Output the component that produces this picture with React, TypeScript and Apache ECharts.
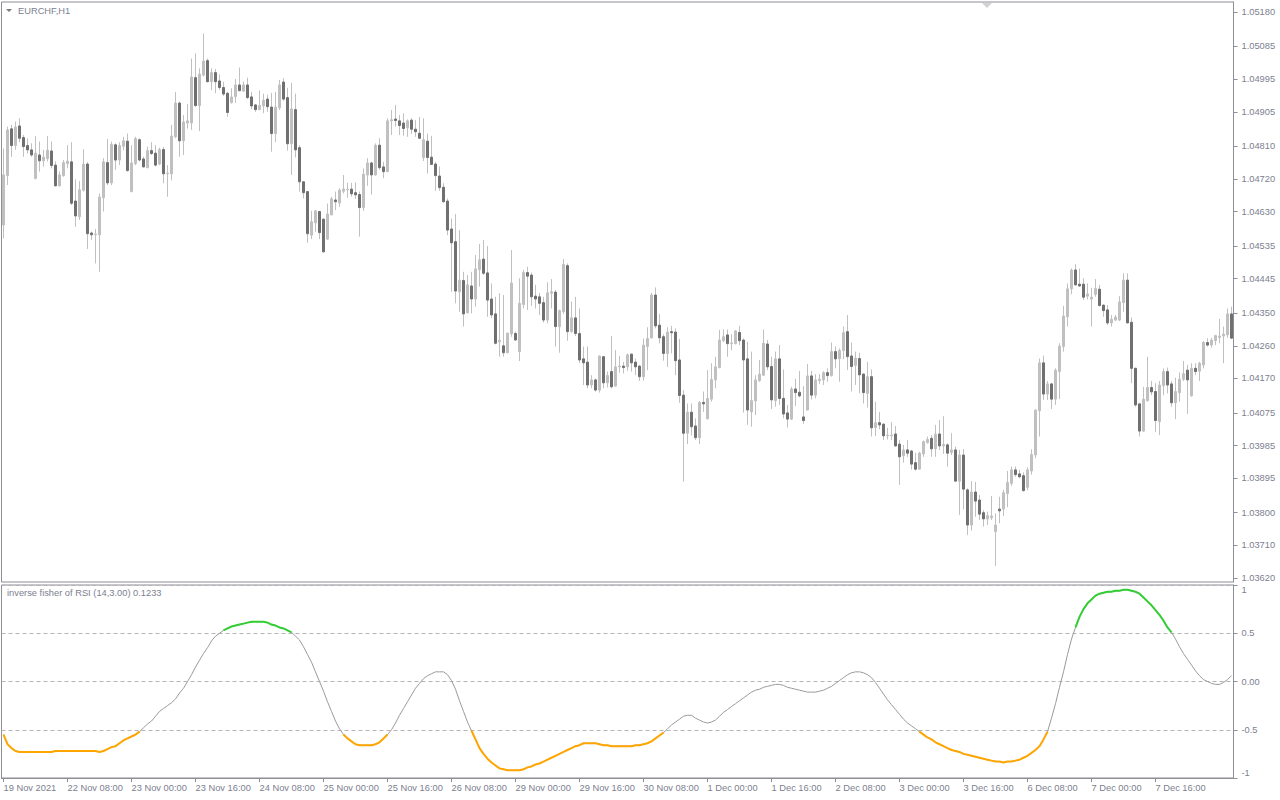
import React, { useEffect, useRef } from "react";
import * as echarts from "echarts";

const SYMBOL_TITLE = "EURCHF,H1";
const IND_TITLE = "inverse fisher of RSI (14,3.00) 0.1233";
const FIRST_BAR_UTC = "2021-11-19T16:00:00Z";
const MONTHS = ["Jan", "Feb", "Mar", "Apr", "May", "Jun", "Jul", "Aug", "Sep", "Oct", "Nov", "Dec"];

const OPEN = [
1.04593,1.04729,1.04858,1.04812,1.04866,1.04834,1.04812,1.04800,1.04721,1.04786,1.04770,1.04776,1.04797,1.04758,1.04701,1.04729,
1.04762,1.04767,1.04659,1.04616,1.04689,1.04761,1.04571,1.04566,1.04566,1.04668,1.04765,1.04709,1.04814,1.04772,1.04810,1.04824,
1.04685,1.04762,1.04828,1.04775,1.04751,1.04798,1.04791,1.04761,1.04801,1.04734,1.04734,1.04836,1.04929,1.04825,1.04874,1.04874,
1.04999,1.04922,1.05006,1.05046,1.04988,1.05013,1.04990,1.04972,1.04956,1.04930,1.04947,1.04979,1.04962,1.04979,1.04946,1.04924,
1.04911,1.04921,1.04940,1.04918,1.04845,1.04916,1.04987,1.04944,1.04817,1.04911,1.04806,1.04712,1.04685,1.04565,1.04599,1.04630,
1.04609,1.04554,1.04621,1.04662,1.04654,1.04686,1.04690,1.04692,1.04682,1.04677,1.04641,1.04731,1.04764,1.04731,1.04813,1.04753,
1.04740,1.04880,1.04885,1.04880,1.04874,1.04861,1.04882,1.04857,1.04846,1.04779,1.04824,1.04780,1.04761,1.04728,1.04697,1.04659,
1.04582,1.04547,1.04409,1.04440,1.04351,1.04425,1.04389,1.04470,1.04499,1.04461,1.04389,1.04348,1.04271,1.04260,1.04241,1.04293,
1.04294,1.04244,1.04374,1.04462,1.04455,1.04397,1.04395,1.04379,1.04331,1.04405,1.04408,1.04313,1.04354,1.04481,1.04299,1.04337,
1.04294,1.04224,1.04215,1.04152,1.04166,1.04138,1.04230,1.04158,1.04189,1.04149,1.04202,1.04204,1.04202,1.04237,1.04215,1.04204,
1.04175,1.04258,1.04282,1.04400,1.04317,1.04285,1.04239,1.04299,1.04298,1.04221,1.04124,1.04019,1.04077,1.04039,1.04007,1.04104,
1.04059,1.04113,1.04166,1.04200,1.04274,1.04290,1.04266,1.04266,1.04297,1.04276,1.04224,1.04078,1.04108,1.04164,1.04179,1.04265,
1.04203,1.04109,1.04224,1.04115,1.04075,1.04058,1.04141,1.04132,1.04064,1.04083,1.04177,1.04124,1.04164,1.04166,1.04186,1.04178,
1.04244,1.04225,1.04247,1.04299,1.04232,1.04206,1.04225,1.04182,1.04129,1.04175,1.04035,1.04048,1.04044,1.04012,1.04012,1.04017,
1.03989,1.03957,1.03973,1.03970,1.03938,1.03920,1.03962,1.03993,1.04005,1.03976,1.04017,1.03984,1.03987,1.03966,1.03973,1.03887,
1.03959,1.03863,1.03766,1.03857,1.03835,1.03800,1.03783,1.03786,1.03748,1.03810,1.03810,1.03853,1.03881,1.03918,1.03907,1.03902,
1.03870,1.03915,1.03959,1.04081,1.04213,1.04127,1.04155,1.04113,1.04189,1.04258,1.04340,1.04417,1.04469,1.04430,1.04430,1.04397,
1.04389,1.04402,1.04416,1.04372,1.04359,1.04323,1.04331,1.04331,1.04379,1.04441,1.04325,1.04198,1.04100,1.04025,1.04109,1.04145,
1.04134,1.04051,1.04150,1.04189,1.04155,1.04103,1.04131,1.04168,1.04193,1.04122,1.04198,1.04190,1.04207,1.04269,1.04262,1.04274,
1.04283,1.04287,1.04290,1.04348
];

const HIGH = [
1.04804,1.04864,1.04869,1.04878,1.04887,1.04841,1.04832,1.04818,1.04838,1.04823,1.04800,1.04838,1.04823,1.04768,1.04740,1.04772,
1.04813,1.04821,1.04719,1.04714,1.04802,1.04766,1.04575,1.04582,1.04680,1.04777,1.04830,1.04823,1.04818,1.04821,1.04836,1.04845,
1.04813,1.04836,1.04832,1.04781,1.04809,1.04821,1.04813,1.04806,1.04808,1.04758,1.04869,1.04960,1.04933,1.04896,1.04926,1.05052,
1.05066,1.05025,1.05121,1.05052,1.05025,1.05023,1.05008,1.04988,1.04960,1.04970,1.04995,1.05027,1.04988,1.04999,1.04960,1.04926,
1.04964,1.04955,1.04952,1.04957,1.04960,1.04993,1.04998,1.04971,1.04985,1.04955,1.04813,1.04714,1.04687,1.04632,1.04634,1.04632,
1.04611,1.04652,1.04671,1.04685,1.04694,1.04731,1.04710,1.04709,1.04710,1.04685,1.04749,1.04777,1.04767,1.04818,1.04832,1.04767,
1.04887,1.04910,1.04924,1.04896,1.04901,1.04884,1.04887,1.04882,1.04891,1.04887,1.04845,1.04839,1.04767,1.04754,1.04708,1.04666,
1.04611,1.04623,1.04579,1.04464,1.04455,1.04464,1.04510,1.04541,1.04552,1.04535,1.04432,1.04395,1.04405,1.04400,1.04296,1.04524,
1.04299,1.04446,1.04469,1.04478,1.04462,1.04428,1.04406,1.04395,1.04435,1.04444,1.04414,1.04360,1.04499,1.04487,1.04382,1.04395,
1.04363,1.04258,1.04258,1.04179,1.04170,1.04233,1.04232,1.04189,1.04287,1.04248,1.04232,1.04216,1.04239,1.04239,1.04225,1.04207,
1.04280,1.04311,1.04406,1.04421,1.04348,1.04292,1.04311,1.04315,1.04308,1.04279,1.04138,1.04101,1.04101,1.04060,1.04108,1.04134,
1.04193,1.04212,1.04230,1.04304,1.04305,1.04305,1.04292,1.04303,1.04315,1.04280,1.04271,1.04244,1.04179,1.04221,1.04305,1.04276,
1.04230,1.04244,1.04262,1.04195,1.04097,1.04147,1.04169,1.04191,1.04149,1.04210,1.04191,1.04182,1.04182,1.04190,1.04198,1.04269,
1.04258,1.04253,1.04313,1.04345,1.04269,1.04244,1.04241,1.04184,1.04216,1.04195,1.04106,1.04078,1.04046,1.04034,1.04050,1.04039,
1.04000,1.03987,1.04000,1.03973,1.03965,1.03968,1.03999,1.04010,1.04014,1.04042,1.04056,1.04066,1.03991,1.04019,1.03982,1.03973,
1.03975,1.03867,1.03887,1.03885,1.03849,1.03807,1.03803,1.03846,1.03798,1.03844,1.03863,1.03915,1.03927,1.03927,1.03918,1.03911,
1.03925,1.03975,1.04085,1.04225,1.04233,1.04163,1.04157,1.04198,1.04267,1.04370,1.04432,1.04473,1.04485,1.04473,1.04446,1.04432,
1.04420,1.04444,1.04428,1.04374,1.04372,1.04345,1.04345,1.04397,1.04460,1.04460,1.04338,1.04200,1.04101,1.04147,1.04230,1.04163,
1.04157,1.04163,1.04198,1.04200,1.04163,1.04172,1.04187,1.04218,1.04207,1.04212,1.04212,1.04216,1.04273,1.04281,1.04282,1.04290,
1.04334,1.04313,1.04363,1.04368
];

const LOW = [
1.04556,1.04703,1.04781,1.04800,1.04821,1.04781,1.04790,1.04781,1.04719,1.04740,1.04754,1.04768,1.04749,1.04699,1.04699,1.04726,
1.04749,1.04648,1.04588,1.04607,1.04685,1.04527,1.04552,1.04487,1.04464,1.04630,1.04703,1.04703,1.04745,1.04758,1.04799,1.04740,
1.04683,1.04758,1.04768,1.04752,1.04749,1.04786,1.04754,1.04758,1.04708,1.04671,1.04716,1.04832,1.04781,1.04786,1.04859,1.04855,
1.04919,1.04852,1.05002,1.04986,1.04965,1.04956,1.04965,1.04949,1.04891,1.04928,1.04930,1.04962,1.04960,1.04940,1.04912,1.04905,
1.04910,1.04901,1.04905,1.04795,1.04821,1.04910,1.04935,1.04798,1.04731,1.04779,1.04685,1.04666,1.04544,1.04554,1.04575,1.04554,
1.04517,1.04552,1.04620,1.04634,1.04643,1.04680,1.04668,1.04671,1.04665,1.04561,1.04632,1.04701,1.04677,1.04729,1.04745,1.04722,
1.04738,1.04841,1.04864,1.04841,1.04839,1.04836,1.04844,1.04836,1.04830,1.04769,1.04735,1.04758,1.04687,1.04687,1.04655,1.04565,
1.04409,1.04377,1.04354,1.04313,1.04349,1.04349,1.04368,1.04423,1.04455,1.04340,1.04336,1.04264,1.04230,1.04230,1.04239,1.04285,
1.04274,1.04218,1.04363,1.04359,1.04370,1.04363,1.04345,1.04324,1.04322,1.04363,1.04258,1.04241,1.04348,1.04274,1.04296,1.04287,
1.04212,1.04152,1.04143,1.04143,1.04134,1.04131,1.04143,1.04145,1.04143,1.04148,1.04186,1.04184,1.04191,1.04189,1.04179,1.04163,
1.04164,1.04193,1.04280,1.04308,1.04267,1.04219,1.04202,1.04239,1.04179,1.04103,1.03886,1.03989,1.04013,1.04000,1.03989,1.04078,
1.04057,1.04106,1.04143,1.04198,1.04270,1.04230,1.04248,1.04264,1.04262,1.04076,1.04042,1.04037,1.04069,1.04161,1.04177,1.04193,
1.04086,1.04092,1.04097,1.04060,1.04035,1.04056,1.04094,1.04118,1.04045,1.04082,1.04112,1.04115,1.04155,1.04152,1.04161,1.04175,
1.04198,1.04161,1.04223,1.04193,1.04134,1.04152,1.04129,1.04101,1.04090,1.04010,1.04011,1.04030,1.04000,1.04002,1.04000,1.03982,
1.03877,1.03938,1.03954,1.03919,1.03916,1.03919,1.03954,1.03991,1.03954,1.03954,1.03973,1.03962,1.03927,1.03959,1.03886,1.03794,
1.03809,1.03739,1.03751,1.03789,1.03780,1.03762,1.03766,1.03780,1.03653,1.03771,1.03791,1.03815,1.03874,1.03899,1.03895,1.03858,
1.03862,1.03905,1.03950,1.04010,1.04111,1.04111,1.04086,1.04097,1.04113,1.04244,1.04313,1.04402,1.04426,1.04422,1.04386,1.04388,
1.04313,1.04395,1.04368,1.04340,1.04317,1.04313,1.04328,1.04328,1.04354,1.04322,1.04157,1.04092,1.04010,1.04023,1.04106,1.04124,
1.04023,1.04014,1.04124,1.04129,1.04092,1.04058,1.04106,1.04163,1.04072,1.04120,1.04179,1.04163,1.04198,1.04258,1.04255,1.04262,
1.04267,1.04212,1.04282,1.04279
];

const CLOSE = [
1.04731,1.04855,1.04812,1.04863,1.04832,1.04809,1.04800,1.04786,1.04791,1.04770,1.04780,1.04799,1.04757,1.04701,1.04731,1.04765,
1.04769,1.04653,1.04618,1.04690,1.04761,1.04569,1.04566,1.04568,1.04670,1.04767,1.04709,1.04815,1.04772,1.04812,1.04825,1.04743,
1.04764,1.04831,1.04772,1.04753,1.04798,1.04790,1.04758,1.04801,1.04734,1.04736,1.04838,1.04929,1.04825,1.04877,1.04880,1.05001,
1.04922,1.05009,1.05045,1.04988,1.05013,1.04988,1.04972,1.04954,1.04903,1.04946,1.04979,1.04963,1.04979,1.04944,1.04921,1.04911,
1.04922,1.04937,1.04919,1.04845,1.04918,1.04979,1.04940,1.04817,1.04913,1.04800,1.04712,1.04682,1.04569,1.04602,1.04632,1.04572,
1.04519,1.04623,1.04665,1.04657,1.04689,1.04692,1.04692,1.04679,1.04676,1.04641,1.04733,1.04764,1.04731,1.04813,1.04751,1.04740,
1.04880,1.04883,1.04881,1.04867,1.04859,1.04880,1.04857,1.04850,1.04832,1.04828,1.04779,1.04760,1.04729,1.04696,1.04657,1.04579,
1.04544,1.04411,1.04441,1.04348,1.04428,1.04389,1.04472,1.04497,1.04460,1.04386,1.04345,1.04267,1.04275,1.04241,1.04295,1.04433,
1.04276,1.04377,1.04462,1.04452,1.04395,1.04389,1.04377,1.04331,1.04406,1.04409,1.04313,1.04357,1.04484,1.04299,1.04337,1.04294,
1.04221,1.04213,1.04152,1.04166,1.04138,1.04232,1.04158,1.04178,1.04147,1.04202,1.04204,1.04200,1.04235,1.04213,1.04202,1.04175,
1.04262,1.04280,1.04400,1.04315,1.04282,1.04239,1.04298,1.04296,1.04219,1.04123,1.04019,1.04077,1.04037,1.04007,1.04104,1.04100,
1.04115,1.04167,1.04202,1.04276,1.04285,1.04266,1.04268,1.04301,1.04274,1.04221,1.04083,1.04109,1.04166,1.04182,1.04267,1.04202,
1.04111,1.04224,1.04115,1.04072,1.04058,1.04141,1.04131,1.04122,1.04054,1.04177,1.04124,1.04166,1.04168,1.04186,1.04178,1.04244,
1.04224,1.04247,1.04296,1.04230,1.04203,1.04226,1.04180,1.04131,1.04175,1.04034,1.04048,1.04042,1.04012,1.04014,1.04014,1.03984,
1.03954,1.03973,1.03964,1.03934,1.03920,1.03964,1.03996,1.04002,1.03976,1.04016,1.03984,1.03988,1.03964,1.03973,1.03887,1.03959,
1.03865,1.03766,1.03857,1.03832,1.03796,1.03783,1.03792,1.03791,1.03766,1.03805,1.03855,1.03883,1.03918,1.03905,1.03899,1.03861,
1.03918,1.03960,1.04083,1.04213,1.04127,1.04155,1.04113,1.04193,1.04259,1.04342,1.04417,1.04469,1.04428,1.04425,1.04394,1.04403,
1.04394,1.04418,1.04371,1.04357,1.04323,1.04333,1.04339,1.04381,1.04441,1.04323,1.04198,1.04097,1.04025,1.04113,1.04145,1.04133,
1.04054,1.04152,1.04189,1.04152,1.04103,1.04134,1.04168,1.04183,1.04166,1.04198,1.04189,1.04212,1.04269,1.04262,1.04276,1.04288,
1.04287,1.04292,1.04348,1.04281
];

const IFISH = [
-0.55,-0.65,-0.69,-0.72,-0.73,-0.73,-0.73,-0.73,-0.73,-0.73,-0.73,-0.73,-0.73,-0.72,-0.72,-0.72,
-0.72,-0.72,-0.72,-0.72,-0.72,-0.72,-0.72,-0.72,-0.73,-0.72,-0.70,-0.68,-0.67,-0.64,-0.61,-0.59,
-0.57,-0.55,-0.52,-0.48,-0.44,-0.41,-0.36,-0.31,-0.28,-0.25,-0.22,-0.18,-0.12,-0.07,0.00,0.07,
0.15,0.22,0.29,0.35,0.42,0.47,0.50,0.53,0.55,0.57,0.58,0.59,0.60,0.61,0.62,0.62,
0.62,0.62,0.61,0.59,0.58,0.56,0.55,0.53,0.51,0.47,0.43,0.36,0.28,0.20,0.10,0.00,
-0.10,-0.21,-0.31,-0.41,-0.49,-0.55,-0.59,-0.62,-0.65,-0.66,-0.66,-0.66,-0.66,-0.65,-0.63,-0.59,
-0.55,-0.50,-0.43,-0.35,-0.28,-0.21,-0.14,-0.07,-0.02,0.03,0.06,0.08,0.10,0.10,0.10,0.07,
0.01,-0.08,-0.20,-0.31,-0.42,-0.51,-0.60,-0.69,-0.75,-0.80,-0.84,-0.87,-0.90,-0.91,-0.92,-0.92,
-0.92,-0.92,-0.91,-0.89,-0.88,-0.86,-0.85,-0.83,-0.81,-0.79,-0.77,-0.75,-0.73,-0.71,-0.69,-0.67,
-0.66,-0.64,-0.64,-0.64,-0.64,-0.65,-0.66,-0.66,-0.67,-0.67,-0.67,-0.67,-0.67,-0.67,-0.66,-0.66,
-0.65,-0.64,-0.62,-0.59,-0.56,-0.53,-0.49,-0.45,-0.42,-0.39,-0.36,-0.35,-0.35,-0.38,-0.40,-0.42,
-0.43,-0.42,-0.40,-0.36,-0.32,-0.29,-0.26,-0.23,-0.20,-0.17,-0.14,-0.11,-0.09,-0.08,-0.06,-0.05,
-0.04,-0.03,-0.03,-0.04,-0.06,-0.07,-0.08,-0.09,-0.10,-0.11,-0.11,-0.11,-0.10,-0.09,-0.07,-0.05,
-0.02,0.01,0.04,0.07,0.09,0.10,0.10,0.09,0.07,0.04,-0.01,-0.07,-0.13,-0.19,-0.24,-0.29,
-0.34,-0.39,-0.43,-0.46,-0.49,-0.52,-0.55,-0.58,-0.60,-0.63,-0.65,-0.67,-0.69,-0.71,-0.72,-0.73,
-0.75,-0.76,-0.77,-0.78,-0.79,-0.80,-0.81,-0.82,-0.83,-0.83,-0.84,-0.83,-0.83,-0.82,-0.81,-0.79,
-0.77,-0.74,-0.71,-0.67,-0.60,-0.52,-0.38,-0.23,-0.06,0.10,0.28,0.44,0.56,0.67,0.75,0.81,
0.85,0.89,0.91,0.92,0.93,0.93,0.94,0.94,0.95,0.95,0.94,0.93,0.91,0.87,0.83,0.79,
0.74,0.69,0.63,0.56,0.51,0.44,0.36,0.29,0.23,0.17,0.11,0.06,0.02,0.00,-0.02,-0.03,
-0.03,-0.01,0.02,0.06
];

const PRICE_TICKS = ["1.03620","1.03710","1.03800","1.03895","1.03985","1.04075","1.04170","1.04260","1.04350","1.04445","1.04535","1.04630","1.04720","1.04810","1.04905","1.04995","1.05085","1.05180"];
const TIME_TICKS = ["19 Nov 2021","22 Nov 08:00","23 Nov 00:00","23 Nov 16:00","24 Nov 08:00","25 Nov 00:00","25 Nov 16:00","26 Nov 08:00","29 Nov 00:00","29 Nov 16:00","30 Nov 08:00","1 Dec 00:00","1 Dec 16:00","2 Dec 08:00","3 Dec 00:00","3 Dec 16:00","6 Dec 08:00","7 Dec 00:00","7 Dec 16:00","8 Dec 08:00"];
const TIME_TICK_STEP = 16;
const IND_LEVEL_LABELS: Record<string, string> = { "1": "1", "0.5": "0.5", "0": "0.00", "-0.5": "-0.5", "-1": "-1" };

const PRICE_MIN = 1.03609;
const PRICE_MAX = 1.052076;

const BULL = "#c0c0c0";
const BEAR = "#707070";
const WICK = "#c0c0c0";
const FRAME = "#8e8e96";
const LABEL = "#7c8090";
const FONT = "Liberation Sans";
const FS = 9.3;

function buildTimes(startISO: string, n: number): string[] {
  const out: string[] = [];
  const t = new Date(startISO);
  while (out.length < n) {
    const wd = t.getUTCDay();
    if (wd !== 0 && wd !== 6) {
      out.push(`${t.getUTCDate()} ${MONTHS[t.getUTCMonth()]} ${String(t.getUTCHours()).padStart(2, "0")}:00`);
    }
    t.setUTCHours(t.getUTCHours() + 1);
  }
  return out;
}

export default function App() {
  const ref = useRef<HTMLDivElement>(null);
  useEffect(() => {
    if (!ref.current) return;
    const chart = echarts.init(ref.current, null, { renderer: "svg" });
    const times = buildTimes(FIRST_BAR_UTC, OPEN.length);
    const wickData = OPEN.map((o, i) => [o, CLOSE[i], LOW[i], HIGH[i]]);
    const bodyData = OPEN.map((o, i) => [o, CLOSE[i], Math.min(o, CLOSE[i]), Math.max(o, CLOSE[i])]);
    const tickVals = PRICE_TICKS.map(Number);
    const left = 1.5;
    const width = 1232;
    const option: any = {
      animation: false,
      backgroundColor: "#ffffff",
      textStyle: { fontFamily: FONT },
      grid: [
        { left, width, top: 2, height: 580, show: true, borderColor: FRAME, borderWidth: 1, backgroundColor: "transparent" },
        { left, width, top: 585, height: 193, show: true, borderColor: FRAME, borderWidth: 1, backgroundColor: "transparent" },
      ],
      xAxis: [
        {
          type: "category", gridIndex: 0, data: times, boundaryGap: true,
          axisLine: { show: false }, axisTick: { show: false }, axisLabel: { show: false }, splitLine: { show: false },
        },
        {
          type: "category", gridIndex: 1, data: times, boundaryGap: true,
          axisLine: { show: true, onZero: false, lineStyle: { color: FRAME } },
          axisTick: { show: true, interval: TIME_TICK_STEP - 1, alignWithLabel: true, length: 4, lineStyle: { color: FRAME } },
          axisLabel: {
            interval: TIME_TICK_STEP - 1, align: "left", margin: 5, color: LABEL, fontSize: FS, fontFamily: FONT,
            showMaxLabel: false,
            formatter: (_v: string, idx: number) => (idx % TIME_TICK_STEP === 0 ? TIME_TICKS[idx / TIME_TICK_STEP] ?? "" : ""),
          },
          splitLine: { show: false },
        },
      ],
      yAxis: [
        {
          type: "value", gridIndex: 0, position: "right", min: PRICE_MIN, max: PRICE_MAX, scale: true,
          splitLine: { show: false },
          axisLine: { show: true, lineStyle: { color: FRAME } },
          axisTick: { show: true, length: 4, customValues: tickVals, lineStyle: { color: FRAME } },
          axisLabel: {
            customValues: tickVals, margin: 8, color: LABEL, fontSize: FS, fontFamily: FONT,
            formatter: (v: number) => v.toFixed(5),
          },
        },
        {
          type: "value", gridIndex: 1, position: "right", min: -1, max: 1, interval: 0.5,
          splitLine: { show: true, lineStyle: { color: "#b4b4b4", type: [4, 3], width: 1 } },
          axisLine: { show: true, lineStyle: { color: FRAME } },
          axisTick: { show: true, length: 4, lineStyle: { color: FRAME } },
          axisLabel: {
            margin: 8, color: LABEL, fontSize: FS, fontFamily: FONT,
            formatter: (v: number) => {
              const s = IND_LEVEL_LABELS[String(v)] ?? String(v);
              if (v === 1) return `{t|${s}}`;
              if (v === -1) return `{b|${s}}`;
              return s;
            },
            rich: {
              t: { padding: [10, 0, 0, 0], color: LABEL, fontSize: FS, fontFamily: FONT },
              b: { padding: [0, 0, 10, 0], color: LABEL, fontSize: FS, fontFamily: FONT },
            },
          },
        },
      ],
      series: [
        {
          type: "candlestick", xAxisIndex: 0, yAxisIndex: 0, data: wickData, barWidth: 0.01,
          itemStyle: { color: WICK, color0: WICK, borderColor: WICK, borderColor0: WICK, borderWidth: 1 },
        },
        {
          type: "candlestick", xAxisIndex: 0, yAxisIndex: 0, data: bodyData, barWidth: 2,
          itemStyle: { color: BULL, color0: BEAR, borderColor: BULL, borderColor0: BEAR, borderWidth: 1 },
        },
        {
          type: "line", xAxisIndex: 1, yAxisIndex: 1, data: IFISH, symbol: "none",
          lineStyle: { color: "#9a9a9a", width: 1 }, z: 3,
        },
        {
          type: "line", xAxisIndex: 1, yAxisIndex: 1, data: IFISH.map((v) => (v < -0.5 ? v : null)), symbol: "none",
          connectNulls: false, lineStyle: { color: "#ffa500", width: 2 }, z: 4,
        },
        {
          type: "line", xAxisIndex: 1, yAxisIndex: 1, data: IFISH.map((v) => (v > 0.5 ? v : null)), symbol: "none",
          connectNulls: false, lineStyle: { color: "#32cd32", width: 2 }, z: 4,
        },
      ],
      graphic: [
        { type: "polygon", shape: { points: [[6, 9], [12, 9], [9, 12]] }, style: { fill: "#7a7a7a" } },
        { type: "text", x: 18, y: 11, style: { text: SYMBOL_TITLE, fill: LABEL, font: `${FS}px "${FONT}"`, verticalAlign: "middle" } },
        { type: "text", x: 7, y: 593, style: { text: IND_TITLE, fill: LABEL, font: `${FS}px "${FONT}"`, verticalAlign: "middle" } },
        { type: "polygon", shape: { points: [[982, 3], [992, 3], [987, 8]] }, style: { fill: "#d2d2d2" } },
      ],
    };
    chart.setOption(option);
    return () => chart.dispose();
  }, []);
  return <div ref={ref} style={{ position: "fixed", left: 0, top: 0, width: 1280, height: 800 }} />;
}
